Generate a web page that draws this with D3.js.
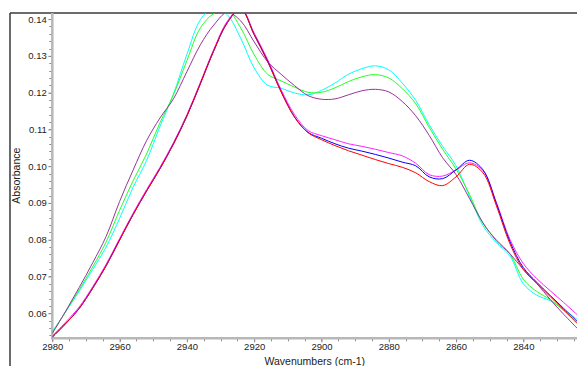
<!DOCTYPE html>
<html><head><meta charset="utf-8">
<script src="https://cdn.jsdelivr.net/npm/d3@7/dist/d3.min.js"></script>
<style>html,body{margin:0;padding:0;background:#fff;}svg{display:block;}</style>
</head><body>
<svg id="chart" width="577" height="366"></svg>
<script>
// ---- data (wavenumber grid, absorbance per spectrum) ----
const wavenumbers = [2980,2976,2972,2968,2964,2960,2956,2952,2948,2944,2940,2936,2932,2928,2924,2920,2916,2912,2908,2904,2900,2896,2892,2888,2884,2880,2876,2872,2868,2864,2860,2856,2852,2848,2844,2840,2836,2832,2828,2824];
const cyanSeries = [0.0550,0.0604,0.0660,0.0719,0.0780,0.0858,0.0942,0.1015,0.1108,0.1196,0.1304,0.1398,0.1432,0.1412,0.1348,0.1267,0.1220,0.1212,0.1199,0.1194,0.1206,0.1226,0.1250,0.1265,0.1273,0.1262,0.1226,0.1179,0.1113,0.1054,0.1001,0.0918,0.0838,0.0792,0.0756,0.0680,0.0649,0.0634,0.0610,0.0583];
const greenSeries = [0.0547,0.0605,0.0664,0.0726,0.0794,0.0880,0.0960,0.1033,0.1118,0.1194,0.1287,0.1376,0.1415,0.1425,0.1376,0.1303,0.1250,0.1232,0.1215,0.1201,0.1201,0.1213,0.1230,0.1243,0.1249,0.1240,0.1211,0.1170,0.1106,0.1046,0.0992,0.0923,0.0844,0.0800,0.0762,0.0692,0.0659,0.0637,0.0607,0.0575];
const purpleSeries = [0.0545,0.0606,0.0670,0.0737,0.0809,0.0904,0.0989,0.1069,0.1131,0.1183,0.1257,0.1330,0.1384,0.1418,0.1395,0.1338,0.1284,0.1250,0.1219,0.1192,0.1182,0.1183,0.1194,0.1205,0.1209,0.1202,0.1176,0.1137,0.1084,0.1023,0.0977,0.0912,0.0846,0.0797,0.0762,0.0719,0.0681,0.0637,0.0597,0.0559];
const magentaSeries = [0.0538,0.0576,0.0617,0.0672,0.0733,0.0803,0.0872,0.0936,0.0997,0.1064,0.1140,0.1228,0.1318,0.1394,0.1430,0.1362,0.1290,0.1208,0.1140,0.1097,0.1083,0.1072,0.1061,0.1054,0.1046,0.1037,0.1028,0.1008,0.0977,0.0973,0.0990,0.1009,0.0988,0.0901,0.0801,0.0735,0.0694,0.0661,0.0629,0.0596];
const blueSeries = [0.0535,0.0572,0.0613,0.0668,0.0729,0.0799,0.0868,0.0932,0.0993,0.1060,0.1136,0.1224,0.1314,0.1390,0.1428,0.1358,0.1286,0.1203,0.1134,0.1092,0.1076,0.1061,0.1049,0.1041,0.1032,0.1022,0.1011,0.1001,0.0971,0.0966,0.0990,0.1016,0.0990,0.0898,0.0795,0.0724,0.0684,0.0648,0.0613,0.0578];
const redSeries = [0.0535,0.0572,0.0613,0.0668,0.0729,0.0799,0.0868,0.0932,0.0993,0.1060,0.1136,0.1224,0.1314,0.1390,0.1428,0.1357,0.1284,0.1202,0.1133,0.1091,0.1072,0.1056,0.1042,0.1030,0.1018,0.1007,0.0997,0.0982,0.0958,0.0947,0.0971,0.1005,0.0982,0.0892,0.0789,0.0719,0.0681,0.0645,0.0609,0.0572];
const seriesNames = ["cyan","green","purple","magenta","blue","red"];
const seriesColors = ["#00ffff","#22ff22","#993399","#ff22ff","#0000ff","#ff0000"];
const seriesValues = [cyanSeries,greenSeries,purpleSeries,magentaSeries,blueSeries,redSeries];
const xMajorTicks = [2980,2960,2940,2920,2900,2880,2860,2840];
const yMajorTicks = [0.06,0.07,0.08,0.09,0.10,0.11,0.12,0.13,0.14];
const xLabel = "Wavenumbers (cm-1)";
const yLabel = "Absorbance";

// ---- layout ----
const svg = d3.select("#chart");
const L = 52.3, R = 577.2, T = 13, B = 338.3;
const x = d3.scaleLinear().domain([2980, 2824]).range([L, R]);
const y = d3.scaleLinear().domain([0.05318, 0.14166]).range([B, T]);
const font = "'Liberation Sans Narrow','Liberation Sans',Arial,sans-serif";

// outer frame
svg.append("line").attr("x1",10).attr("x2",577).attr("y1",13).attr("y2",13).attr("stroke","#3a3a3a").attr("stroke-width",1.5);
svg.append("line").attr("x1",10).attr("x2",10).attr("y1",13).attr("y2",366).attr("stroke","#3a3a3a").attr("stroke-width",1.5);

// clip
svg.append("defs").append("clipPath").attr("id","clip").append("rect")
  .attr("x",L).attr("y",T+0.5).attr("width",R-L+5).attr("height",B-T);

// minor ticks
const yMinor = d3.range(0.054, 0.1416, 0.002);
svg.append("g").selectAll("line").data(yMinor).join("line")
  .attr("x1",L-3).attr("x2",L).attr("y1",d=>Math.round(y(d))+0.5).attr("y2",d=>Math.round(y(d))+0.5)
  .attr("stroke","#8a8a8a").attr("stroke-width",1);
const xMinor = d3.range(2980, 2823, -5);
svg.append("g").selectAll("line").data(xMinor).join("line")
  .attr("x1",d=>Math.round(x(d))+0.5).attr("x2",d=>Math.round(x(d))+0.5).attr("y1",B).attr("y2",B+3)
  .attr("stroke","#8a8a8a").attr("stroke-width",1);

// axes
const yAxis = d3.axisLeft(y).tickValues(yMajorTicks).tickFormat(d3.format(".2f")).tickSize(4).tickPadding(1.5);
const gy = svg.append("g").attr("transform",`translate(${L},0)`).call(yAxis);
const xAxis = d3.axisBottom(x).tickValues(xMajorTicks).tickFormat(d3.format("d")).tickSize(4).tickPadding(1);
const gx = svg.append("g").attr("transform",`translate(0,${B})`).call(xAxis);
[gx,gy].forEach(g=>{
  g.select(".domain").remove();
  g.selectAll(".tick line").attr("stroke","#8a8a8a");
  g.selectAll(".tick text").attr("fill","#222").style("font-family",font).style("font-size","9.5px");
});
// axis lines
svg.append("line").attr("x1",L).attr("x2",L).attr("y1",T).attr("y2",B+1).attr("stroke","#b8b8b8").attr("stroke-width",2.5);
svg.append("line").attr("x1",L-1).attr("x2",577).attr("y1",B).attr("y2",B).attr("stroke","#b8b8b8").attr("stroke-width",2.5);

// labels
svg.append("text").attr("x",(L+R)/2).attr("y",364.5).attr("text-anchor","middle")
  .style("font-family",font).style("font-size","10.5px").attr("fill","#222").text(xLabel);
svg.append("text").attr("transform",`translate(19.5,${(T+B)/2}) rotate(-90)`).attr("text-anchor","middle")
  .style("font-family",font).style("font-size","10.5px").attr("fill","#222").text(yLabel);

// spectra
const line = d3.line().x((d,i)=>x(wavenumbers[i])).y(d=>y(d)).curve(d3.curveCatmullRom.alpha(0.5));
svg.append("g").attr("clip-path","url(#clip)").selectAll("path").data(seriesValues).join("path")
  .attr("d",d=>line(d)).attr("fill","none").attr("stroke",(d,i)=>seriesColors[i]).attr("stroke-width",1);
</script>
</body></html>
